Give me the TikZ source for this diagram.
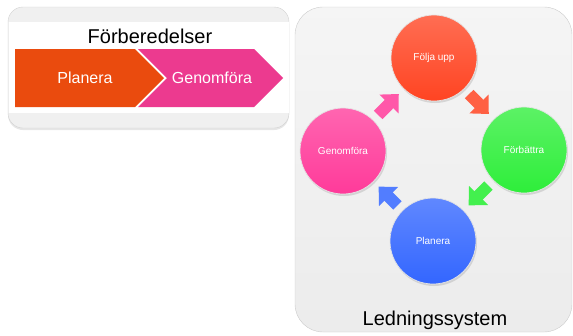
\documentclass[tikz,border=0pt]{standalone}
\usepackage{fontspec}
\setmainfont{Liberation Sans}
\usetikzlibrary{arrows.meta,shadows}

\definecolor{steporange}{HTML}{EA4B0E}
\definecolor{steppink}{HTML}{EC3A8F}
\definecolor{foljred}{HTML}{FF4422}
\definecolor{forbgreen}{HTML}{2EEE3A}
\definecolor{planblue}{HTML}{3366FF}
\definecolor{genomrose}{HTML}{FF3A9A}

\tikzset{
  ball/.style={circle, minimum size=86pt, inner sep=0pt, text=white,
    font=\fontsize{10}{12}\selectfont, draw=white!90!black, line width=0.7pt,
    shading=axis, top color=#1!78!white, bottom color=#1,
    drop shadow={opacity=0.25, shadow xshift=1pt, shadow yshift=-2pt}},
  cyclearrow/.style={line width=12pt, draw=#1,
    -{Triangle[length=14pt,width=26pt]}, shorten <=7pt, shorten >=7pt},
  steptext/.style={anchor=base, text=white, font=\fontsize{16}{19}\selectfont},
  boxtitle/.style={anchor=base, font=\fontsize{20}{24}\selectfont},
}

\begin{document}
\begin{tikzpicture}[x=1pt,y=-1pt]
\useasboundingbox (0,0) rectangle (573,335);

% Drawing box Forberedelser
\draw [rounded corners=15pt, draw=gray!35, fill=gray!12,
  drop shadow={opacity=0.2, shadow xshift=0pt, shadow yshift=-2pt}] (8,7) rectangle (289,128);%
\fill [white] (8.5,22) rectangle (288.5,113);%
\node (prep) [boxtitle] at (150,43) {Förberedelser};%

% Drawing step Planera
\fill [steporange] (15,49) -- (135,49) -- (164,78) -- (135,107) -- (15,107) -- cycle;%
\node (planstep) [steptext] at (85,83) {Planera};%

% Drawing step Genomfora
\fill [steppink] (138,49) -- (254,49) -- (283,78) -- (254,107) -- (138,107) -- (167,78) -- cycle;%
\node (genomstep) [steptext] at (212,83) {Genomföra};%

% Drawing box Ledningssystem
\draw [rounded corners=28pt, draw=gray!40, top color=gray!8, bottom color=gray!15] (295,7) rectangle (572,332);%
\node (system) [boxtitle] at (435,325) {Ledningssystem};%

% Marking the four circles
\node (fu) [ball=foljred] at (434,58) {Följa upp};%
\node (fb) [ball=forbgreen] at (524,150) {Förbättra};%
\node (pl) [ball=planblue] at (433,241) {Planera};%
\node (gf) [ball=genomrose] at (343,151) {Genomföra};%

% Drawing the arrows of the cycle
\draw [cyclearrow=foljred!85!white] (fu) -- (fb);%
\draw [cyclearrow=forbgreen!90!white] (fb) -- (pl);%
\draw [cyclearrow=planblue!85!white] (pl) -- (gf);%
\draw [cyclearrow=genomrose!85!white] (gf) -- (fu);%
\end{tikzpicture}
\end{document}
